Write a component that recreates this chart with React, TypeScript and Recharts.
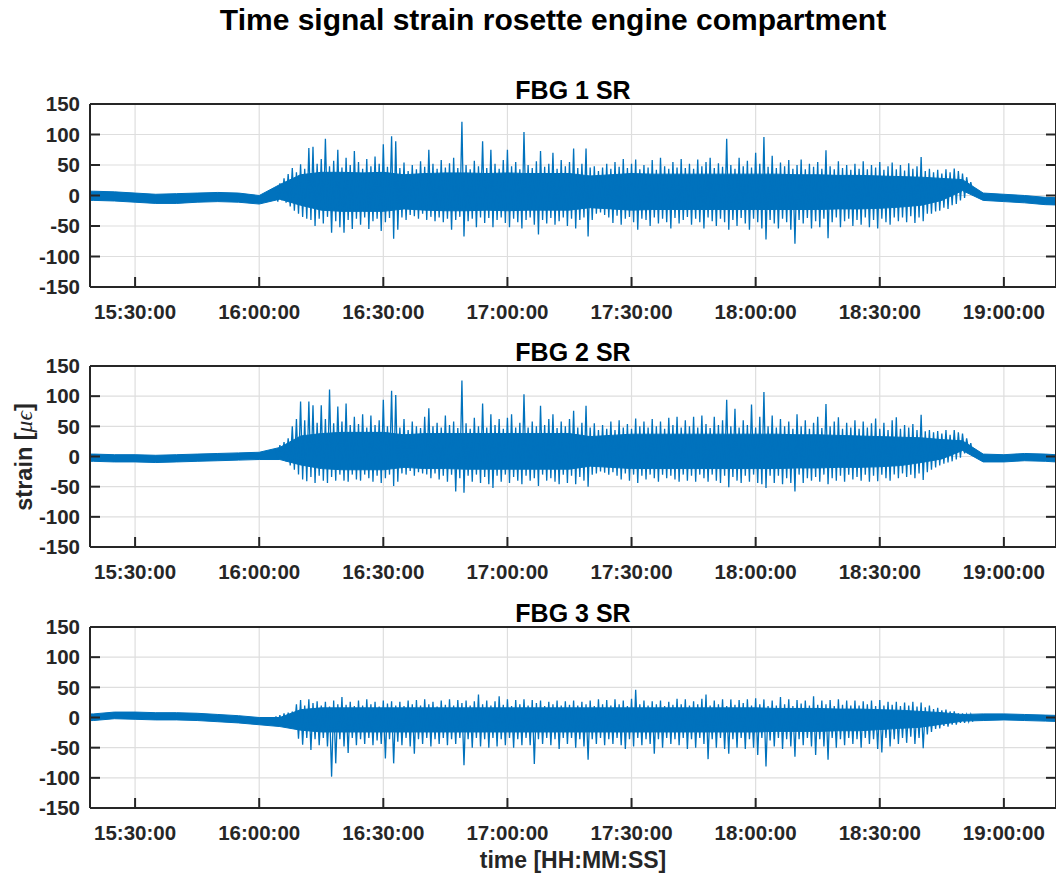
import { ComposedChart, Area, Line, XAxis, YAxis, CartesianGrid } from 'recharts'

const BLUE = '#0072BD'
const INK = '#262626'
const GRID = '#dedede'
const FONT = '"Liberation Sans", Arial, Helvetica, sans-serif'

// time axis in minutes after midnight (15:00 = 900)
const timeDomain = [919.1, 1152.6]
const timeTicks = [930, 960, 990, 1020, 1050, 1080, 1110, 1140]
const strainTicks = [-150, -100, -50, 0, 50, 100, 150]

// dense core of the signal, every 5 minutes
const bandTimes = [
  915, 920, 925, 930, 935, 940, 945, 950, 955, 960,
  965, 970, 975, 980, 985, 990, 995, 1000, 1005, 1010,
  1015, 1020, 1025, 1030, 1035, 1040, 1045, 1050, 1055, 1060,
  1065, 1070, 1075, 1080, 1085, 1090, 1095, 1100, 1105, 1110,
  1115, 1120, 1125, 1130, 1135, 1140, 1145, 1150, 1155,
]

// peak max / min per minute from 16:04 to 18:52
const spikeStart = 964

const fbg1BandHi = [
  7, 7, 6, 4, 2, 3, 4, 5, 4, 0, 18, 34, 38, 38, 37, 38, 34, 36, 37, 37,
  36, 37, 36, 36, 36, 32, 34, 36, 35, 35, 35, 35, 35, 35, 35, 34, 34, 33, 33, 32,
  31, 30, 28, 26, 4, 2, 0, -3, -4,
]
const fbg1BandLo = [
  -8, -8, -9, -11, -13, -13, -11, -10, -11, -14, -6, -16, -24, -26, -26, -26, -22, -24, -25, -25,
  -24, -25, -24, -24, -24, -20, -22, -24, -23, -23, -23, -23, -23, -23, -23, -23, -23, -22, -22, -21,
  -19, -16, -8, 8, -8, -10, -12, -15, -16,
]
const fbg1SpikeHi = [
  12, 20, 28, 35, 45, 38, 51, 44, 78, 80,
  52, 60, 93, 48, 57, 75, 46, 62, 50, 73,
  55, 44, 60, 48, 64, 52, 84, 47, 97, 89,
  45, 54, 40, 50, 43, 56, 47, 75, 52, 44,
  58, 46, 53, 62, 45, 121, 50, 43, 57, 48,
  89, 45, 75, 52, 44, 58, 75, 48, 55, 43,
  104, 50, 45, 56, 73, 47, 52, 70, 44, 58,
  48, 55, 77, 45, 52, 77, 46, 48, 40, 46,
  52, 44, 55, 47, 60, 45, 52, 59, 43, 50,
  46, 58, 42, 62, 48, 44, 55, 46, 60, 45,
  52, 44, 59, 48, 55, 62, 45, 53, 47, 93,
  50, 44, 62, 48, 57, 46, 70, 52, 96, 47,
  65, 45, 54, 48, 58, 44, 50, 59, 43, 52,
  47, 55, 44, 74, 48, 43, 56, 45, 50, 42,
  52, 44, 56, 43, 50, 46, 55, 42, 48, 54,
  43, 50, 41, 53, 44, 48, 63, 40, 44, 38,
  42, 36, 43, 38, 44, 40, 36, 30, 22,
]
const fbg1SpikeLo = [
  -10, -8, -12, -18, -25, -30, -35, -38, -40, -50,
  -38, -46, -35, -61, -42, -52, -61, -40, -55, -38,
  -48, -36, -55, -42, -38, -58, -44, -37, -71, -56,
  -36, -40, -32, -34, -38, -30, -40, -35, -42, -36,
  -44, -38, -56, -40, -35, -67, -42, -38, -52, -36,
  -45, -37, -52, -40, -36, -45, -52, -38, -44, -54,
  -40, -36, -48, -64, -40, -46, -37, -48, -42, -36,
  -50, -38, -54, -40, -36, -67, -40, -30, -28, -32,
  -36, -45, -33, -48, -38, -35, -44, -56, -38, -40,
  -50, -36, -46, -38, -44, -54, -37, -46, -40, -35,
  -48, -38, -44, -54, -36, -42, -50, -38, -44, -56,
  -40, -50, -37, -46, -56, -38, -44, -54, -72, -40,
  -46, -54, -38, -44, -56, -79, -40, -46, -37, -54,
  -42, -52, -38, -70, -44, -36, -52, -42, -38, -50,
  -40, -48, -36, -52, -40, -54, -38, -44, -48, -36,
  -42, -36, -44, -34, -45, -36, -42, -30, -30, -26,
  -25, -20, -22, -16, -14, -8, -4, 8, 5,
]

const fbg2BandHi = [
  4, 4, 3, 3, 2, 3, 4, 5, 6, 7, 15, 34, 38, 40, 40, 40, 36, 38, 38, 38,
  38, 38, 38, 38, 38, 33, 35, 37, 37, 37, 37, 37, 37, 37, 37, 36, 36, 35, 34, 33,
  32, 31, 28, 26, 4, 3, 5, 4, 2,
]
const fbg2BandLo = [
  -8, -8, -9, -9, -10, -9, -8, -7, -6, -5, -5, -14, -20, -22, -22, -22, -18, -20, -20, -21,
  -21, -21, -21, -21, -21, -16, -18, -20, -20, -20, -20, -20, -20, -20, -20, -19, -19, -18, -18, -17,
  -15, -10, -4, 10, -9, -9, -7, -8, -10,
]
const fbg2SpikeHi = [
  10, 19, 24, 30, 50, 62, 91, 60, 91, 85,
  56, 85, 62, 111, 55, 83, 58, 88, 52, 66,
  54, 70, 48, 68, 52, 60, 94, 50, 109, 102,
  48, 62, 44, 58, 50, 47, 66, 80, 50, 56,
  48, 68, 52, 58, 47, 126, 55, 46, 64, 50,
  88, 48, 70, 52, 62, 46, 64, 70, 48, 56,
  103, 48, 58, 50, 84, 52, 62, 70, 47, 58,
  50, 62, 76, 48, 56, 84, 48, 55, 44, 52,
  46, 58, 44, 60, 48, 54, 46, 63, 50, 58,
  48, 62, 50, 58, 46, 64, 52, 66, 48, 60,
  50, 66, 48, 68, 54, 47, 66, 52, 60, 94,
  50, 79, 48, 60, 52, 86, 48, 66, 107, 50,
  68, 48, 62, 50, 58, 46, 70, 50, 60, 46,
  56, 66, 47, 87, 50, 58, 65, 46, 56, 48,
  60, 46, 58, 48, 55, 63, 46, 56, 44, 60,
  65, 46, 52, 48, 54, 44, 69, 42, 44, 40,
  42, 38, 44, 36, 44, 40, 38, 30, 22,
]
const fbg2SpikeLo = [
  -4, -3, -8, -15, -22, -30, -38, -41, -34, -44,
  -32, -40, -44, -34, -40, -30, -40, -42, -30, -38,
  -40, -30, -36, -42, -32, -44, -36, -30, -49, -42,
  -28, -30, -24, -32, -26, -28, -30, -36, -28, -38,
  -32, -42, -30, -58, -36, -60, -32, -42, -30, -44,
  -34, -46, -52, -32, -42, -30, -44, -34, -40, -46,
  -32, -40, -36, -49, -30, -40, -36, -42, -46, -30,
  -44, -32, -46, -34, -40, -50, -30, -28, -25, -27,
  -30, -26, -32, -38, -28, -40, -30, -44, -32, -38,
  -30, -36, -42, -30, -36, -32, -38, -42, -30, -40,
  -32, -42, -30, -36, -42, -30, -40, -44, -32, -51,
  -34, -40, -44, -32, -42, -30, -44, -46, -52, -32,
  -44, -32, -46, -36, -44, -58, -30, -44, -36, -40,
  -34, -42, -30, -46, -36, -40, -32, -42, -30, -38,
  -34, -40, -30, -42, -32, -41, -30, -36, -40, -30,
  -36, -28, -34, -30, -36, -28, -39, -26, -22, -18,
  -15, -12, -10, -8, -5, -2, 5, 10, 2,
]

const fbg3BandHi = [
  5, 6, 9, 9, 8, 8, 7, 5, 3, 0, 0, 13, 16, 16, 16, 16, 16, 16, 16, 16,
  16, 16, 16, 16, 16, 16, 16, 16, 16, 16, 16, 16, 16, 16, 15, 15, 15, 14, 14, 13,
  12, 10, 8, 5, 6, 6, 5, 4, 3,
]
const fbg3BandLo = [
  -6, -5, -2, -3, -4, -4, -5, -7, -9, -12, -15, -21, -24, -24, -24, -24, -24, -24, -24, -24,
  -24, -24, -24, -24, -24, -24, -24, -24, -24, -24, -24, -24, -24, -24, -23, -23, -23, -22, -22, -20,
  -18, -16, -11, -6, -5, -4, -5, -6, -7,
]
const fbg3SpikeHi = [
  2, 4, 7, 8, 10, 22, 29, 20, 30, 24,
  27, 20, 26, 18, 28, 22, 34, 21, 26, 19,
  28, 20, 30, 22, 26, 18, 28, 23, 27, 20,
  26, 19, 28, 22, 29, 20, 30, 22, 26, 18,
  28, 21, 30, 20, 29, 24, 28, 20, 27, 38,
  22, 28, 20, 27, 35, 21, 30, 19, 29, 22,
  30, 20, 29, 24, 28, 19, 26, 22, 28, 20,
  27, 21, 28, 20, 26, 22, 28, 19, 30, 22,
  29, 20, 30, 22, 28, 19, 31, 46, 22, 28,
  20, 27, 22, 28, 19, 26, 21, 31, 22, 30,
  20, 27, 22, 31, 38, 20, 28, 22, 30, 19,
  30, 21, 29, 24, 30, 20, 32, 22, 30, 19,
  28, 20, 34, 22, 30, 19, 29, 23, 28, 20,
  35, 21, 28, 22, 29, 19, 30, 21, 28, 20,
  28, 20, 27, 22, 28, 19, 29, 20, 26, 21,
  26, 19, 25, 20, 26, 18, 25, 17, 20, 14,
  16, 12, 13, 10, 10, 7, 7, 5, 5,
]
const fbg3SpikeLo = [
  -10, -12, -15, -16, -18, -35, -45, -34, -54, -36,
  -46, -34, -48, -98, -76, -36, -48, -59, -34, -46,
  -36, -44, -34, -46, -38, -44, -68, -36, -76, -40,
  -46, -34, -48, -60, -36, -44, -34, -48, -36, -44,
  -34, -46, -36, -44, -34, -79, -36, -50, -34, -48,
  -36, -50, -34, -48, -36, -46, -34, -50, -36, -46,
  -34, -46, -77, -36, -44, -34, -46, -36, -52, -34,
  -44, -34, -50, -36, -48, -70, -36, -44, -34, -46,
  -36, -44, -34, -46, -52, -36, -48, -34, -46, -36,
  -44, -60, -36, -50, -34, -44, -36, -46, -34, -52,
  -36, -50, -34, -44, -69, -36, -50, -34, -52, -60,
  -36, -50, -34, -52, -36, -50, -62, -34, -81, -38,
  -48, -34, -52, -36, -48, -65, -36, -46, -34, -48,
  -62, -36, -48, -70, -34, -50, -36, -46, -34, -44,
  -36, -50, -34, -44, -36, -52, -58, -34, -48, -36,
  -44, -34, -42, -32, -44, -34, -51, -28, -24, -19,
  -18, -14, -15, -12, -12, -9, -9, -7, -7,
]

const clock = (m: number) => `${Math.floor(m / 60)}:${String(m % 60).padStart(2, '0')}:00`

const tickFont = { fontSize: 20.5, fontWeight: 700, fill: INK, fontFamily: FONT }
const frame = { stroke: INK, strokeWidth: 2 }
// tick marks only, no label (box axes on top and right)
const noLabel = () => <g />

interface PanelProps {
  top: number
  height: number
  bandHi: number[]
  bandLo: number[]
  spikeHi: number[]
  spikeLo: number[]
}

function Panel({ top, height, bandHi, bandLo, spikeHi, spikeLo }: PanelProps) {
  const band = bandTimes.map((t, i) => ({ t, range: [bandLo[i], bandHi[i]] }))
  // each minute: its max, then its min half a minute later
  const trace = spikeHi.flatMap((hi, i) => [
    { t: spikeStart + i, v: hi },
    { t: spikeStart + i + 0.5, v: spikeLo[i] },
  ])

  return (
    <div style={{ position: 'absolute', left: 0, top: top - 20 }}>
      <ComposedChart
        width={1070}
        height={height + 20 + 40}
        data={trace}
        margin={{ top: 19, right: 13, bottom: 0, left: 0 }}
      >
        <CartesianGrid stroke={GRID} strokeWidth={1.2} />
        <XAxis
          dataKey="t"
          type="number"
          domain={timeDomain}
          allowDataOverflow
          ticks={timeTicks}
          tickFormatter={clock}
          interval={0}
          height={40}
          tickSize={-10}
          tickMargin={27}
          tick={tickFont}
          axisLine={frame}
          tickLine={frame}
        />
        <XAxis
          xAxisId="top"
          orientation="top"
          type="number"
          domain={timeDomain}
          allowDataOverflow
          ticks={timeTicks}
          interval={0}
          height={1}
          tickSize={-10}
          tick={noLabel}
          axisLine={frame}
          tickLine={frame}
        />
        <YAxis
          type="number"
          domain={[-150, 150]}
          allowDataOverflow
          ticks={strainTicks}
          interval={0}
          width={90}
          tickSize={-10}
          tickMargin={20}
          tick={tickFont}
          axisLine={frame}
          tickLine={frame}
        />
        <YAxis
          yAxisId="right"
          orientation="right"
          type="number"
          domain={[-150, 150]}
          allowDataOverflow
          ticks={strainTicks}
          interval={0}
          width={1}
          tickSize={-10}
          tick={noLabel}
          axisLine={frame}
          tickLine={frame}
        />
        <Area
          data={band}
          dataKey="range"
          type="linear"
          stroke={BLUE}
          strokeWidth={1}
          fill={BLUE}
          fillOpacity={1}
          isAnimationActive={false}
        />
        <Line
          dataKey="v"
          type="linear"
          stroke={BLUE}
          strokeWidth={1.3}
          dot={false}
          isAnimationActive={false}
        />
      </ComposedChart>
    </div>
  )
}

const panels = [
  { title: 'FBG 1 SR', top: 104, height: 183, bandHi: fbg1BandHi, bandLo: fbg1BandLo, spikeHi: fbg1SpikeHi, spikeLo: fbg1SpikeLo },
  { title: 'FBG 2 SR', top: 366, height: 181, bandHi: fbg2BandHi, bandLo: fbg2BandLo, spikeHi: fbg2SpikeHi, spikeLo: fbg2SpikeLo },
  { title: 'FBG 3 SR', top: 627, height: 181, bandHi: fbg3BandHi, bandLo: fbg3BandLo, spikeHi: fbg3SpikeHi, spikeLo: fbg3SpikeLo },
]

export default function App() {
  return (
    <div
      style={{
        position: 'absolute',
        left: 0,
        top: 0,
        width: 1056,
        height: 875,
        overflow: 'hidden',
        background: '#fff',
        fontFamily: FONT,
      }}
    >
      {panels.map((p) => (
        <Panel key={p.title} {...p} />
      ))}
      <svg width={1056} height={875} style={{ position: 'absolute', left: 0, top: 0, pointerEvents: 'none' }}>
        <text x={553} y={30} textAnchor="middle" fontSize={30} fontWeight={700} fill="#000">
          Time signal strain rosette engine compartment
        </text>
        {panels.map((p) => (
          <text key={p.title} x={573} y={p.top - 5} textAnchor="middle" fontSize={25} fontWeight={700} fill="#000">
            {p.title}
          </text>
        ))}
        <text x={573} y={868} textAnchor="middle" fontSize={23} fontWeight={700} fill={INK}>
          time [HH:MM:SS]
        </text>
        <text
          transform="translate(31.5 457) rotate(-90)"
          textAnchor="middle"
          fontSize={23.5}
          fontWeight={700}
          fill={INK}
        >
          strain [
          <tspan fontStyle="italic" fontWeight={400} fontFamily='"Liberation Serif", serif'>
            μϵ
          </tspan>
          ]
        </text>
      </svg>
    </div>
  )
}
